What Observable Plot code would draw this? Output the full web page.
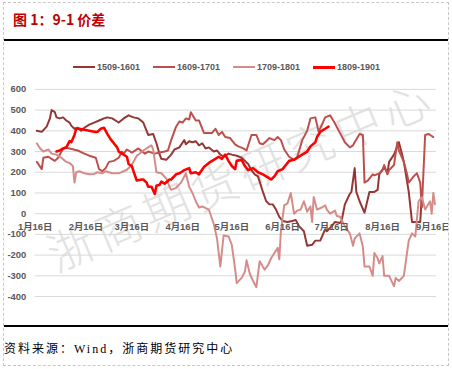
<!DOCTYPE html>
<html><head><meta charset="utf-8">
<script src="https://cdn.jsdelivr.net/npm/d3@7"></script>
<script src="https://cdn.jsdelivr.net/npm/@observablehq/plot@0.6"></script>
<style>
body{margin:0;background:#fff;}
#fig{position:absolute;left:3px;top:2px;width:444px;height:362px;border:1px dashed #c8c8c8;overflow:hidden;background:#fff;}
#title{position:absolute;left:9px;top:8px;font:bold 14px/16px "Noto Sans CJK SC",sans-serif;color:#c00000;white-space:nowrap;}
.rule{position:absolute;left:0;width:100%;height:2px;background:#000;}
#legend{position:absolute;left:69px;top:57px;display:flex;}
.item{flex:0 0 80px;display:flex;align-items:center;font:bold 9px "Liberation Sans",Arial,sans-serif;color:#595959;height:14px;white-space:nowrap;}
.sw{width:22px;margin-right:2px;}
#wm{position:absolute;left:236px;top:170px;transform:translate(-50%,-50%) rotate(-23deg);font:300 46px "Noto Sans CJK SC",sans-serif;letter-spacing:6px;color:#e2e2e2;white-space:nowrap;}
#chart{position:absolute;left:-4px;top:75px;}
#foot{position:absolute;left:0;top:336px;font:12px "Liberation Serif","Noto Sans CJK SC",serif;letter-spacing:2px;color:#000;white-space:nowrap;}
</style>
</head><body>
<div id="fig">
  <div id="title">图 1：9-1 价差</div>
  <div class="rule" style="top:36px"></div>
  <div id="wm">浙商期货研究中心</div>
  <div id="chart"></div>
  <div id="legend"></div>
  <div class="rule" style="top:322px"></div>
  <div id="foot">资料来源：Wind，浙商期货研究中心</div>
</div>
<script>
const seriesNames = ["1509-1601","1609-1701","1709-1801","1809-1901"];
const seriesColors = ["#943634","#bd4f4c","#d58c89","#ff0000"];
const seriesWidths = [2,2,2,2.6];
const yTicks = [-400,-300,-200,-100,0,100,200,300,400,500,600];
const xTickDates = ["01-16","02-16","03-16","04-16","05-16","06-16","07-16","08-16","09-16"];
const xTickLabels = ["1月16日","2月16日","3月16日","4月16日","5月16日","6月16日","7月16日","8月16日","9月16日"];
const xDomain = ["01-16","09-18"];

const s1509 = [["01-17",400],["01-20",395],["01-23",420],["01-25",460],["01-26",500],["01-28",490],["01-29",465],["01-31",460],["02-02",465],["02-04",450],["02-06",440],["02-07",425],["02-09",410],["02-11",415],["02-13",400],["02-15",415],["02-18",430],["02-21",440],["02-24",450],["02-27",460],["03-01",465],["03-04",460],["03-07",445],["03-08",440],["03-11",460],["03-13",470],["03-14",475],["03-17",465],["03-20",460],["03-23",440],["03-25",400],["03-26",380],["03-29",385],["03-31",340],["04-02",285],["04-03",265],["04-06",260],["04-09",285],["04-11",310],["04-14",320],["04-17",355],["04-18",335],["04-20",350],["04-22",345],["04-24",350],["04-26",330],["04-28",340],["04-30",315],["05-02",320],["05-05",300],["05-07",305],["05-09",285],["05-11",275],["05-14",290],["05-16",285],["05-19",280],["05-22",270],["05-24",255],["05-26",240],["05-28",210],["05-30",190],["06-01",180],["06-02",155],["06-04",105],["06-06",60],["06-08",45],["06-10",45],["06-12",20],["06-14",-15],["06-16",-35],["06-19",-40],["06-22",-35],["06-24",-30],["06-26",-60],["06-29",-85],["07-01",-155],["07-04",-150],["07-06",-130],["07-09",-130],["07-12",-75],["07-13",-85],["07-16",-60],["07-18",-40],["07-21",-45],["07-22",-35],["07-24",45],["07-27",95],["07-28",105],["07-30",220],["07-31",105],["08-02",60],["08-05",5],["08-08",105],["08-11",105],["08-13",115],["08-14",190],["08-17",225],["08-19",195],["08-20",250],["08-23",285],["08-26",345],["08-28",285],["08-29",250],["09-01",105],["09-03",-40],["09-06",-40],["09-08",-40],["09-09",90]];

const s1609 = [["01-17",250],["01-20",215],["01-21",270],["01-24",275],["01-26",265],["01-28",255],["01-30",270],["02-01",300],["02-03",320],["02-06",315],["02-11",305],["02-15",290],["02-18",280],["02-22",270],["02-24",215],["02-26",205],["02-28",220],["03-02",250],["03-05",255],["03-08",270],["03-10",300],["03-11",290],["03-13",310],["03-16",295],["03-20",315],["03-24",290],["03-26",300],["03-30",290],["04-02",295],["04-05",300],["04-07",305],["04-09",355],["04-12",420],["04-14",445],["04-16",440],["04-18",460],["04-20",455],["04-21",490],["04-24",450],["04-26",450],["04-27",430],["04-29",390],["05-02",390],["05-04",390],["05-06",410],["05-08",380],["05-10",395],["05-12",370],["05-15",365],["05-18",335],["05-20",325],["05-23",315],["05-25",305],["05-28",380],["05-31",380],["06-02",340],["06-04",335],["06-06",350],["06-08",365],["06-11",355],["06-13",370],["06-15",355],["06-17",310],["06-20",275],["06-23",260],["06-25",275],["06-28",355],["07-01",400],["07-03",460],["07-06",465],["07-08",395],["07-10",430],["07-12",465],["07-15",475],["07-18",435],["07-19",420],["07-21",390],["07-24",345],["07-27",320],["07-29",330],["07-30",345],["08-02",385],["08-04",380],["08-05",150],["08-07",160],["08-10",190],["08-11",185],["08-14",195],["08-16",210],["08-17",235],["08-19",190],["08-20",210],["08-23",235],["08-25",345],["08-26",305],["08-29",250],["08-31",190],["09-01",150],["09-04",180],["09-06",195],["09-08",150],["09-09",30],["09-11",380],["09-13",385],["09-15",375],["09-16",370]];

const s1709 = [["01-17",340],["01-19",315],["01-21",300],["01-24",310],["01-26",290],["01-29",285],["02-01",270],["02-04",250],["02-06",245],["02-08",230],["02-09",150],["02-10",200],["02-12",205],["02-15",195],["02-18",190],["02-21",192],["02-23",200],["02-26",195],["02-28",205],["03-04",195],["03-08",195],["03-13",212],["03-16",236],["03-19",280],["03-20",285],["03-23",305],["03-26",320],["03-28",330],["03-29",310],["03-31",200],["04-03",195],["04-06",170],["04-08",130],["04-09",115],["04-12",125],["04-15",150],["04-18",195],["04-20",130],["04-22",100],["04-24",60],["04-26",30],["04-28",35],["05-02",20],["05-05",-50],["05-07",-120],["05-09",-255],["05-11",-105],["05-14",-110],["05-16",-150],["05-18",-265],["05-19",-335],["05-22",-310],["05-24",-280],["05-25",-225],["05-27",-290],["05-29",-325],["05-31",-355],["06-02",-230],["06-05",-270],["06-07",-250],["06-09",-215],["06-11",-190],["06-13",-165],["06-14",-220],["06-15",-80],["06-17",40],["06-19",50],["06-21",100],["06-23",0],["06-25",15],["06-27",20],["06-29",60],["07-01",10],["07-03",35],["07-04",-40],["07-05",80],["07-07",20],["07-10",30],["07-12",40],["07-13",20],["07-15",0],["07-18",15],["07-19",-10],["07-21",-15],["07-24",-60],["07-27",-95],["07-29",-155],["07-30",-120],["08-02",-95],["08-04",-160],["08-05",-255],["08-08",-255],["08-10",-300],["08-11",-190],["08-13",-215],["08-14",-240],["08-16",-205],["08-17",-300],["08-20",-300],["08-23",-350],["08-24",-310],["08-26",-325],["08-29",-300],["09-01",-130],["09-03",-95],["09-05",-110],["09-07",60],["09-09",80],["09-11",20],["09-14",60],["09-15",0],["09-16",100],["09-17",45]];

const s1809 = [["01-29",300],["01-31",305],["02-02",315],["02-04",320],["02-06",350],["02-07",345],["02-09",380],["02-10",410],["02-12",410],["02-15",405],["02-18",400],["02-21",395],["02-23",395],["02-25",410],["02-27",415],["03-01",385],["03-03",360],["03-05",340],["03-07",320],["03-08",300],["03-10",290],["03-13",275],["03-14",240],["03-16",230],["03-17",205],["03-19",160],["03-22",165],["03-23",165],["03-25",150],["03-26",130],["03-28",130],["03-30",95],["03-31",135],["04-02",140],["04-03",155],["04-05",145],["04-08",165],["04-09",165],["04-12",190],["04-14",195],["04-16",205],["04-17",210],["04-20",220],["04-21",195],["04-24",200],["04-26",190],["04-29",225],["05-02",245],["05-05",260],["05-08",275],["05-10",265],["05-12",285],["05-14",255],["05-16",230],["05-18",215],["05-19",255],["05-22",260],["05-24",230],["05-26",210],["05-29",220],["06-01",200],["06-04",190],["06-07",175],["06-09",165],["06-11",180],["06-13",205],["06-16",215],["06-18",235],["06-20",255],["06-23",260],["06-25",270],["06-27",280],["06-29",290],["07-01",300],["07-03",325],["07-06",345],["07-07",370],["07-09",395],["07-12",410],["07-14",420]];

const parse = d3.utcParse("%Y-%m-%d");
const toDate = s => parse("2018-" + s);
const allSeries = [s1509, s1609, s1709, s1809];
const rows = allSeries.map((s, i) => s.map(([d, v]) => ({series: seriesNames[i], date: toDate(d), value: v})));
const xTicks = xTickDates.map((d, i) => ({date: toDate(d), label: xTickLabels[i]}));

const chart = Plot.plot({
  width: 452, height: 240,
  marginTop: 11, marginBottom: 20, marginLeft: 35, marginRight: 12,
  style: {background: "transparent", fontFamily: "'Liberation Sans','Noto Sans CJK SC',sans-serif", fontSize: "9.5px", fontWeight: "bold", color: "#595959", overflow: "visible"},
  x: {type: "utc", domain: xDomain.map(toDate), axis: null},
  y: {domain: [-400, 600], ticks: yTicks, tickSize: 0, tickPadding: 9, label: null, tickFormat: d => String(d)},
  marks: [
    Plot.ruleY(yTicks, {stroke: "#d9d9d9", strokeWidth: 1}),
    ...rows.map((r, i) => Plot.line(r, {x: "date", y: "value", stroke: seriesColors[i], strokeWidth: seriesWidths[i], strokeLinejoin: "round"})),
    Plot.text(xTicks, {x: "date", y: () => 0, text: "label", dy: 13, fill: "#595959"})
  ]
});
document.getElementById("chart").appendChild(chart);

const legend = document.getElementById("legend");
seriesNames.forEach((n, i) => {
  const it = document.createElement("div");
  it.className = "item";
  const sw = document.createElement("span");
  sw.className = "sw";
  sw.style.height = seriesWidths[i] + 0.4 + "px";
  sw.style.background = seriesColors[i];
  it.appendChild(sw);
  it.appendChild(document.createTextNode(n));
  legend.appendChild(it);
});
</script>
</body></html>
